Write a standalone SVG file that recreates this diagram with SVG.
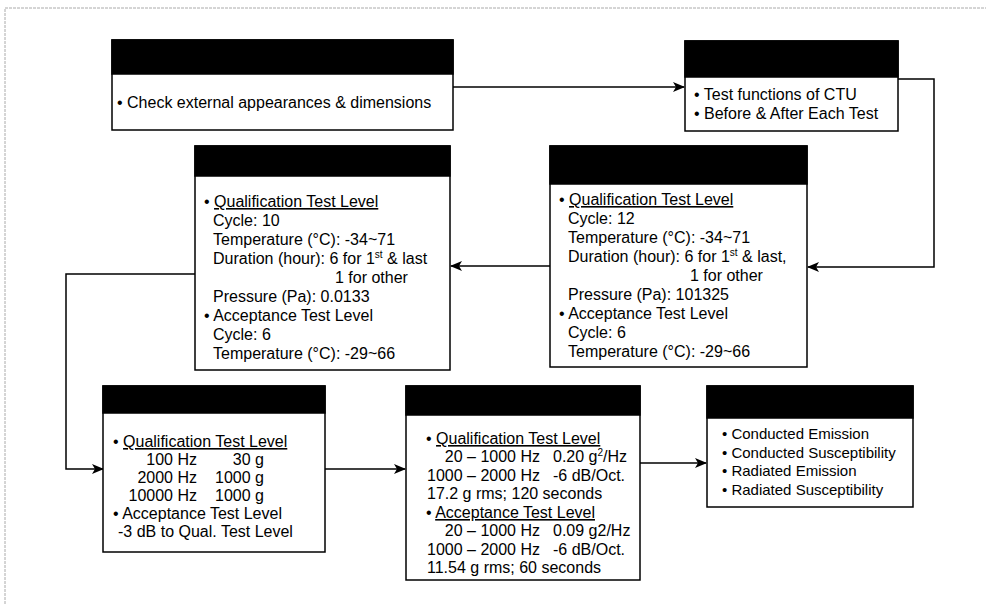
<svg xmlns="http://www.w3.org/2000/svg" width="986" height="604" viewBox="0 0 986 604">
  <defs>
    <marker id="arr" viewBox="0 0 12 10" markerWidth="12" markerHeight="10" refX="11" refY="5" orient="auto" markerUnits="userSpaceOnUse">
      <path d="M0,0 L12,5 L0,10 L3,5 z" fill="#000"/>
    </marker>
    <style>
      .box { fill: #fff; stroke: #000; stroke-width: 1.5; }
      .hdr { fill: #000; stroke: #000; stroke-width: 1.5; }
      text { font-family: "Liberation Sans", Arial, sans-serif; font-size: 16px; fill: #000; }
      .sm { font-size: 15px; }
      .u { text-decoration: underline; }
      .con { fill: none; stroke: #000; stroke-width: 1.5; }
      .frame { stroke: #aaa; stroke-width: 1; stroke-dasharray: 3 1; fill: none; }
    </style>
  </defs>
  <rect width="986" height="604" fill="#fff"/>
  <path class="frame" d="M5,604 L5,8 L986,8"/>

  <g id="connectors">
    <path class="con" d="M453,87 L684,87" marker-end="url(#arr)"/>
    <path class="con" d="M898,79 L934,79 L934,267 L808,267" marker-end="url(#arr)"/>
    <path class="con" d="M550,266 L451,266" marker-end="url(#arr)"/>
    <path class="con" d="M195,274 L66,274 L66,469 L103,469" marker-end="url(#arr)"/>
    <path class="con" d="M325,469 L405,469" marker-end="url(#arr)"/>
    <path class="con" d="M640,463 L706,463" marker-end="url(#arr)"/>
  </g>

  <g id="node-visual">
    <rect class="box" x="112" y="40" width="341" height="90"/>
    <rect class="hdr" x="112" y="40" width="341" height="34"/>
    <text x="117" y="108">• Check external appearances &amp; dimensions</text>
  </g>

  <g id="node-functional">
    <rect class="box" x="685" y="41" width="213" height="90"/>
    <rect class="hdr" x="685" y="41" width="213" height="36"/>
    <text x="694" y="100">• Test functions of CTU</text>
    <text x="694" y="119">• Before &amp; After Each Test</text>
  </g>

  <g id="node-thermal-cycling">
    <rect class="box" x="550" y="146" width="257" height="221"/>
    <rect class="hdr" x="550" y="146" width="257" height="38"/>
    <text x="559" y="205">• <tspan class="u">Qualification Test Level</tspan></text>
    <text x="568" y="224">Cycle: 12</text>
    <text x="568" y="243">Temperature (°C): -34~71</text>
    <text x="568" y="262">Duration (hour): 6 for 1<tspan font-size="10" dy="-6">st</tspan><tspan dy="6"> &amp; last,</tspan></text>
    <text x="690" y="281">1 for other</text>
    <text x="568" y="300">Pressure (Pa): 101325</text>
    <text x="559" y="319">• Acceptance Test Level</text>
    <text x="568" y="338">Cycle: 6</text>
    <text x="568" y="357">Temperature (°C): -29~66</text>
  </g>

  <g id="node-thermal-vacuum">
    <rect class="box" x="195" y="146" width="255" height="224"/>
    <rect class="hdr" x="195" y="146" width="255" height="30"/>
    <text x="204" y="207">• <tspan class="u">Qualification Test Level</tspan></text>
    <text x="213" y="226">Cycle: 10</text>
    <text x="213" y="245">Temperature (°C): -34~71</text>
    <text x="213" y="264">Duration (hour): 6 for 1<tspan font-size="10" dy="-6">st</tspan><tspan dy="6"> &amp; last</tspan></text>
    <text x="335" y="283">1 for other</text>
    <text x="213" y="302">Pressure (Pa): 0.0133</text>
    <text x="204" y="321">• Acceptance Test Level</text>
    <text x="213" y="340">Cycle: 6</text>
    <text x="213" y="359">Temperature (°C): -29~66</text>
  </g>

  <g id="node-shock">
    <rect class="box" x="103" y="386" width="222" height="166"/>
    <rect class="hdr" x="103" y="386" width="222" height="27"/>
    <text x="113" y="447">• <tspan class="u">Qualification Test Level</tspan></text>
    <text x="197" y="465" text-anchor="end">100 Hz</text>
    <text x="264" y="465" text-anchor="end">30 g</text>
    <text x="197" y="483" text-anchor="end">2000 Hz</text>
    <text x="264" y="483" text-anchor="end">1000 g</text>
    <text x="197" y="501" text-anchor="end">10000 Hz</text>
    <text x="264" y="501" text-anchor="end">1000 g</text>
    <text x="113" y="519">• Acceptance Test Level</text>
    <text x="118" y="537">-3 dB to Qual. Test Level</text>
  </g>

  <g id="node-vibration">
    <rect class="box" x="406" y="386" width="234" height="194"/>
    <rect class="hdr" x="406" y="386" width="234" height="29"/>
    <text x="426" y="444">• <tspan class="u">Qualification Test Level</tspan></text>
    <text x="540" y="462" text-anchor="end">20 – 1000 Hz</text>
    <text x="553" y="462">0.20 g<tspan font-size="10" dy="-6">2</tspan><tspan dy="6">/Hz</tspan></text>
    <text x="427" y="481">1000 – 2000 Hz</text>
    <text x="553" y="481">-6 dB/Oct.</text>
    <text x="427" y="499">17.2 g rms; 120 seconds</text>
    <text x="426" y="518">• <tspan class="u">Acceptance Test Level</tspan></text>
    <text x="540" y="536" text-anchor="end">20 – 1000 Hz</text>
    <text x="553" y="536">0.09 g2/Hz</text>
    <text x="427" y="555">1000 – 2000 Hz</text>
    <text x="553" y="555">-6 dB/Oct.</text>
    <text x="427" y="573">11.54 g rms; 60 seconds</text>
  </g>

  <g id="node-emc">
    <rect class="box" x="707" y="386" width="206" height="121"/>
    <rect class="hdr" x="707" y="386" width="206" height="32"/>
    <text class="sm" x="722" y="439">• Conducted Emission</text>
    <text class="sm" x="722" y="458">• Conducted Susceptibility</text>
    <text class="sm" x="722" y="476">• Radiated Emission</text>
    <text class="sm" x="722" y="495">• Radiated Susceptibility</text>
  </g>
</svg>
